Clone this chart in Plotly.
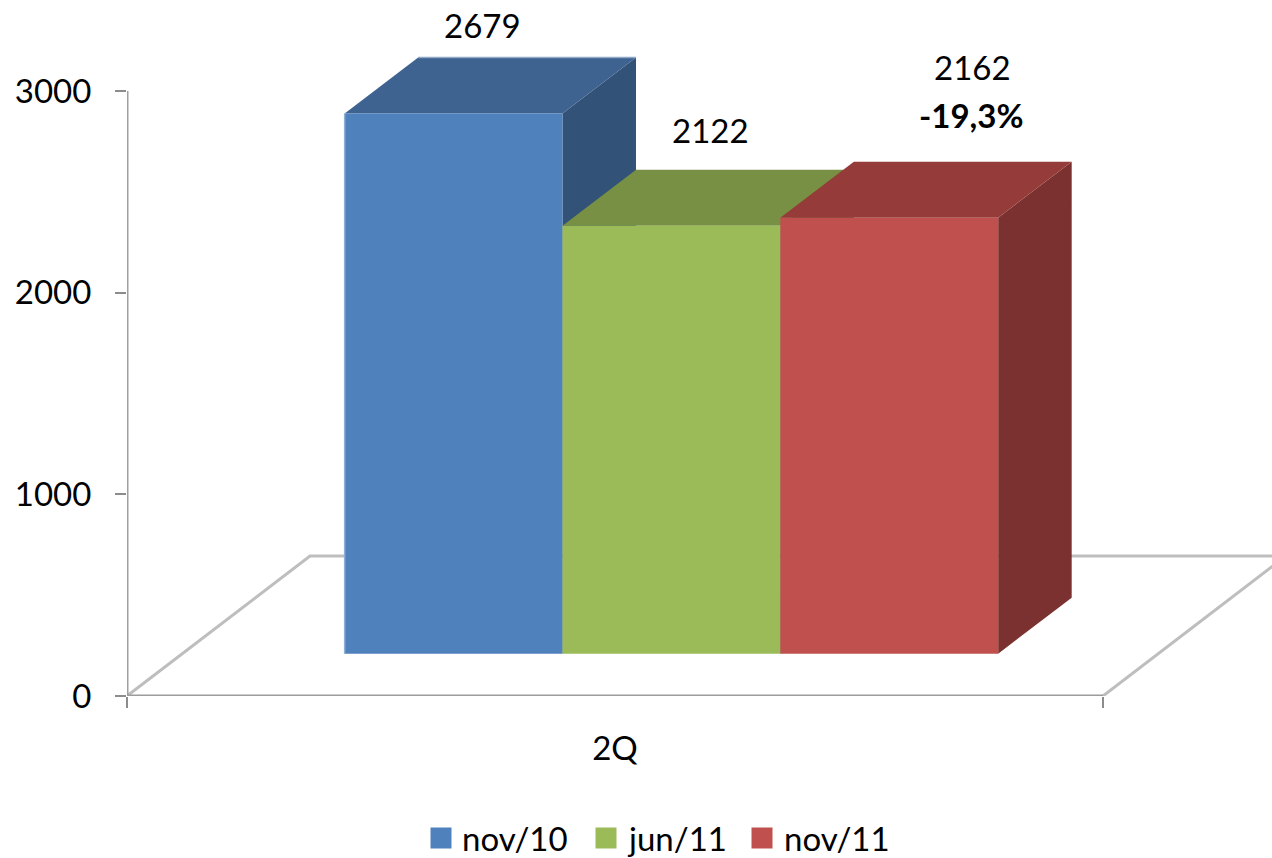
import plotly.graph_objects as go

# ---- data ----
SERIES = ["nov/10", "jun/11", "nov/11"]
VALUES = [2679, 2122, 2162]
CATEGORY = "2Q"
Y_TICKS = [0, 1000, 2000, 3000]
CHANGE_LABEL = "-19,3%"

# ---- styles ----
FRONT = ["#4F81BD", "#9BBB59", "#C0504D"]
TOP = ["#3E6390", "#779044", "#953B39"]
SIDE = ["#325278", "#5F7338", "#7A312F"]
FONT = "Lato, Carlito, Calibri, sans-serif"
FS = 33

W, H = 1272, 858
X0, Y0, YTOP = 127, 696, 91          # pixel anchor of the axes
PX_X = 976.0                          # px per category
PX_Y = (Y0 - YTOP) / 3000.0           # px per value unit
x_range = [-0.5, -0.5 + (W - X0) / PX_X]
y_range = [0, Y0 / PX_Y]

BASE = 210                # bars stand back from the front edge of the floor
BAR_W = 0.2232
BAR_START = -0.2770
DX, DY = 73.5 / PX_X, 56 / PX_Y      # bar depth
FX, FY = 183 / PX_X, 140 / PX_Y      # floor depth

fig = go.Figure()


def line(xs, ys, color, width, **kw):
    fig.add_trace(go.Scatter(x=xs, y=ys, mode="lines", showlegend=False, hoverinfo="skip",
                             line=dict(color=color, width=width), **kw))


def face(xs, ys, color, name):
    fig.add_trace(go.Scatter(x=xs, y=ys, mode="lines", fill="toself", fillcolor=color,
                             line=dict(width=0, color=color), showlegend=False,
                             hoverinfo="skip", name=name))


# floor
line([-0.5, -0.5 + FX, 0.5 + FX], [0, FY, FY], "#BEBEBE", 3)
line([0.5, 0.5 + FX], [0, FY], "#BEBEBE", 3)
# axes lines
line([-0.5, 0.5], [0, 0], "#9C9C9C", 3)
line([-0.5, -0.5], [0, 3000], "#A0A0A0", 3)

# top and side faces, back layer
for i, (name, v) in enumerate(zip(SERIES, VALUES)):
    l = BAR_START + i * BAR_W
    r = l + BAR_W
    t = BASE + v
    face([r, r + DX, r + DX, r, r], [BASE, BASE + DY, t + DY, t, BASE], SIDE[i], name)
    face([l, l + DX, r + DX, r, l], [t, t + DY, t + DY, t, t], TOP[i], name)

# front faces, upper layer
for i, (name, v) in enumerate(zip(SERIES, VALUES)):
    fig.add_trace(go.Bar(x=[0], y=[v], base=[BASE], width=[BAR_W],
                         offset=[BAR_START + i * BAR_W], name=name,
                         marker=dict(color=FRONT[i], line=dict(width=0)),
                         xaxis="x2", yaxis="y2", showlegend=False))

# pale highlight along the first bar's left and back-top edges
line([BAR_START, BAR_START], [BASE, BASE + VALUES[0]], "#8FAFD6", 1.5, xaxis="x2", yaxis="y2")
line([BAR_START + DX, BAR_START + BAR_W + DX], [BASE + VALUES[0] + DY] * 2, "#8FA8C8", 1.5,
     xaxis="x2", yaxis="y2")

# legend row
LEG_X = [441, 606, 762]
LEG_TX = [460, 625, 782]
LEG_Y = 838
fig.add_trace(go.Scatter(x=LEG_X, y=[LEG_Y] * 3, mode="markers", xaxis="x3", yaxis="y3",
                         marker=dict(symbol="square", size=21, color=FRONT),
                         showlegend=False, hoverinfo="skip"))

ann = []
# value labels
shifts = [(29, 88), (39.5, 96), (83, 151)]
for i, v in enumerate(VALUES):
    ann.append(dict(x=BAR_START + (i + 0.5) * BAR_W, y=BASE + v, xref="x", yref="y",
                    text=str(v), showarrow=False, xshift=shifts[i][0], yshift=shifts[i][1],
                    xanchor="center", yanchor="middle", font=dict(family=FONT, size=FS, color="black")))
ann.append(dict(x=BAR_START + 2.5 * BAR_W, y=BASE + VALUES[2], xref="x", yref="y",
                text="<b>%s</b>" % CHANGE_LABEL, showarrow=False, xshift=82, yshift=103,
                xanchor="center", yanchor="middle", font=dict(family=FONT, size=FS, color="black")))
for name, tx in zip(SERIES, LEG_TX):
    ann.append(dict(x=tx, y=LEG_Y, xref="x3", yref="y3", text=name, showarrow=False,
                    xanchor="left", yanchor="middle", font=dict(family=FONT, size=FS, color="black")))

dom_x = [X0 / W, 1]
dom_y = [(H - Y0) / H, 1]
fig.update_layout(
    width=W, height=H, margin=dict(l=0, r=0, t=0, b=0, autoexpand=False), autosize=False,
    paper_bgcolor="white", plot_bgcolor="rgba(0,0,0,0)", barmode="overlay",
    showlegend=False, annotations=ann,
    font=dict(family=FONT, size=FS, color="black"),
    xaxis=dict(domain=dom_x, range=x_range, tickvals=[0], ticktext=[CATEGORY], ticks="",
               showgrid=False, zeroline=False, showline=False, ticklabelstandoff=30,
               minor=dict(tickvals=[-0.5, 0.5], ticks="outside", ticklen=11, tickwidth=1.5,
                          tickcolor="#8C8C8C", showgrid=False),
               tickfont=dict(family=FONT, size=FS, color="black"), anchor="y"),
    yaxis=dict(domain=dom_y, range=y_range, tickvals=Y_TICKS, ticks="outside", ticklen=11,
               tickwidth=1.5, tickcolor="#8C8C8C", showgrid=False, zeroline=False,
               showline=False, ticklabelstandoff=17,
               tickfont=dict(family=FONT, size=FS, color="black"), anchor="x"),
    xaxis2=dict(domain=dom_x, range=x_range, overlaying="x", visible=False, anchor="y2"),
    yaxis2=dict(domain=dom_y, range=y_range, overlaying="y", visible=False, anchor="x2"),
    xaxis3=dict(domain=[0, 1], range=[0, W], visible=False, anchor="y3"),
    yaxis3=dict(domain=[0, 1], range=[H, 0], visible=False, anchor="x3"),
)
fig.write_html("out.html", config=dict(displayModeBar=False),
               post_script="document.body.style.margin='0';document.documentElement.style.overflow='hidden';")
